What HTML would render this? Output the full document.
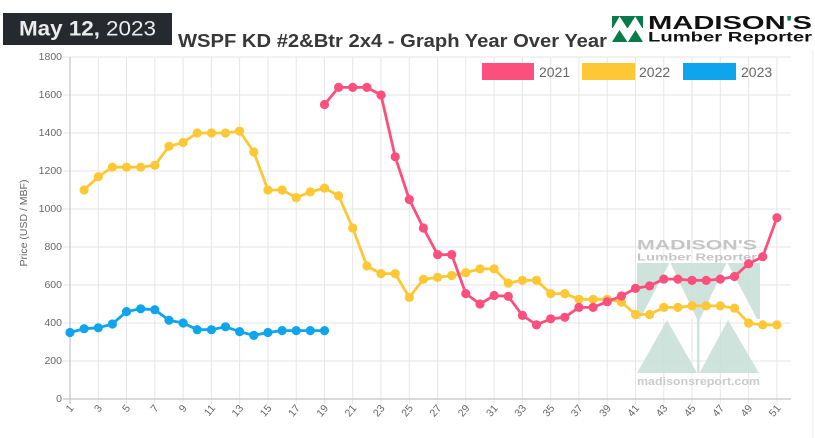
<!DOCTYPE html>
<html>
<head>
<meta charset="utf-8">
<style>
html,body{margin:0;padding:0;background:#fff;}
svg{display:block;font-family:"Liberation Sans",Arial,sans-serif;}
</style>
</head>
<body>
<svg width="815" height="438" viewBox="0 0 815 438" xmlns="http://www.w3.org/2000/svg">
<defs>
<marker id="mb" viewBox="-6 -6 12 12" markerWidth="12" markerHeight="12" refX="0" refY="0" markerUnits="userSpaceOnUse"><circle r="4.6" fill="#0ea5ec"/></marker>
<marker id="my" viewBox="-6 -6 12 12" markerWidth="12" markerHeight="12" refX="0" refY="0" markerUnits="userSpaceOnUse"><circle r="4.6" fill="#fdc735"/></marker>
<marker id="mp" viewBox="-6 -6 12 12" markerWidth="12" markerHeight="12" refX="0" refY="0" markerUnits="userSpaceOnUse"><circle r="4.6" fill="#fb4f7e"/></marker>
</defs>
<rect width="815" height="438" fill="#fff"/>
<line x1="813" y1="50" x2="813" y2="438" stroke="#eeeeee" stroke-width="1"/>

<!-- horizontal grid -->
<g stroke="#e6e6e6" stroke-width="1">
<line x1="63" y1="361" x2="791" y2="361"/>
<line x1="63" y1="323" x2="791" y2="323"/>
<line x1="63" y1="285" x2="791" y2="285"/>
<line x1="63" y1="247" x2="791" y2="247"/>
<line x1="63" y1="209" x2="791" y2="209"/>
<line x1="63" y1="171" x2="791" y2="171"/>
<line x1="63" y1="133" x2="791" y2="133"/>
<line x1="63" y1="95" x2="791" y2="95"/>
<line x1="63" y1="57" x2="791" y2="57"/>
</g>
<!-- vertical grid -->
<g stroke="#e6e6e6" stroke-width="1">
<line x1="98.3" y1="57" x2="98.3" y2="404"/>
<line x1="126.5" y1="57" x2="126.5" y2="404"/>
<line x1="154.8" y1="57" x2="154.8" y2="404"/>
<line x1="183.1" y1="57" x2="183.1" y2="404"/>
<line x1="211.4" y1="57" x2="211.4" y2="404"/>
<line x1="239.6" y1="57" x2="239.6" y2="404"/>
<line x1="267.9" y1="57" x2="267.9" y2="404"/>
<line x1="296.2" y1="57" x2="296.2" y2="404"/>
<line x1="324.5" y1="57" x2="324.5" y2="404"/>
<line x1="352.7" y1="57" x2="352.7" y2="404"/>
<line x1="381" y1="57" x2="381" y2="404"/>
<line x1="409.3" y1="57" x2="409.3" y2="404"/>
<line x1="437.6" y1="57" x2="437.6" y2="404"/>
<line x1="465.8" y1="57" x2="465.8" y2="404"/>
<line x1="494.1" y1="57" x2="494.1" y2="404"/>
<line x1="522.4" y1="57" x2="522.4" y2="404"/>
<line x1="550.7" y1="57" x2="550.7" y2="404"/>
<line x1="578.9" y1="57" x2="578.9" y2="404"/>
<line x1="607.2" y1="57" x2="607.2" y2="404"/>
<line x1="635.5" y1="57" x2="635.5" y2="404"/>
<line x1="663.8" y1="57" x2="663.8" y2="404"/>
<line x1="692" y1="57" x2="692" y2="404"/>
<line x1="720.3" y1="57" x2="720.3" y2="404"/>
<line x1="748.6" y1="57" x2="748.6" y2="404"/>
<line x1="776.9" y1="57" x2="776.9" y2="404"/>
</g>
<!-- axes -->
<line x1="70" y1="57" x2="70" y2="404" stroke="#c4c4c4" stroke-width="1.2"/>
<line x1="63" y1="399" x2="791" y2="399" stroke="#c4c4c4" stroke-width="1.2"/>

<!-- y labels -->
<g font-size="10.5" fill="#666" text-anchor="end" dominant-baseline="central">
<text x="62" y="399">0</text>
<text x="62" y="361">200</text>
<text x="62" y="323">400</text>
<text x="62" y="285">600</text>
<text x="62" y="247">800</text>
<text x="62" y="209">1000</text>
<text x="62" y="171">1200</text>
<text x="62" y="133">1400</text>
<text x="62" y="95">1600</text>
<text x="62" y="57">1800</text>
</g>
<text transform="translate(24,223) rotate(-90)" font-size="10.5" fill="#666" text-anchor="middle" dominant-baseline="central">Price (USD / MBF)</text>

<!-- x labels -->
<g font-size="10.5" fill="#666" text-anchor="end" dominant-baseline="central">
<text transform="translate(72,406.5) rotate(-50)">1</text>
<text transform="translate(100.3,406.5) rotate(-50)">3</text>
<text transform="translate(128.5,406.5) rotate(-50)">5</text>
<text transform="translate(156.8,406.5) rotate(-50)">7</text>
<text transform="translate(185.1,406.5) rotate(-50)">9</text>
<text transform="translate(213.4,406.5) rotate(-50)">11</text>
<text transform="translate(241.6,406.5) rotate(-50)">13</text>
<text transform="translate(269.9,406.5) rotate(-50)">15</text>
<text transform="translate(298.2,406.5) rotate(-50)">17</text>
<text transform="translate(326.5,406.5) rotate(-50)">19</text>
<text transform="translate(354.7,406.5) rotate(-50)">21</text>
<text transform="translate(383,406.5) rotate(-50)">23</text>
<text transform="translate(411.3,406.5) rotate(-50)">25</text>
<text transform="translate(439.6,406.5) rotate(-50)">27</text>
<text transform="translate(467.8,406.5) rotate(-50)">29</text>
<text transform="translate(496.1,406.5) rotate(-50)">31</text>
<text transform="translate(524.4,406.5) rotate(-50)">33</text>
<text transform="translate(552.7,406.5) rotate(-50)">35</text>
<text transform="translate(580.9,406.5) rotate(-50)">37</text>
<text transform="translate(609.2,406.5) rotate(-50)">39</text>
<text transform="translate(637.5,406.5) rotate(-50)">41</text>
<text transform="translate(665.8,406.5) rotate(-50)">43</text>
<text transform="translate(694,406.5) rotate(-50)">45</text>
<text transform="translate(722.3,406.5) rotate(-50)">47</text>
<text transform="translate(750.6,406.5) rotate(-50)">49</text>
<text transform="translate(778.9,406.5) rotate(-50)">51</text>
</g>

<!-- watermark -->
<g opacity="0.85">
<rect x="637" y="263" width="123" height="56" fill="#c6dfd6"/>
<polygon points="640,319 670,262 697,319" fill="#fff"/>
<polygon points="700,319 727,262 757,319" fill="#fff"/>
<rect x="697" y="319" width="2.5" height="54" fill="#c6dfd6"/>
<polygon points="637,373 667,320 697,373" fill="#c6dfd6"/>
<polygon points="699.5,373 728,320 759,373" fill="#c6dfd6"/>
<text x="637" y="249.5" font-size="13.5" font-weight="bold" fill="#bcbcbc" textLength="120" lengthAdjust="spacingAndGlyphs">MADISON'S</text>
<text x="637" y="260.5" font-size="10.5" font-weight="bold" fill="#bcbcbc" textLength="120" lengthAdjust="spacingAndGlyphs">Lumber Reporter</text>
<text x="637" y="385" font-size="11" font-weight="bold" fill="#c2c2c2" textLength="123" lengthAdjust="spacingAndGlyphs">madisonsreport.com</text>
</g>

<!-- series -->
<polyline fill="none" stroke="#0ea5ec" stroke-width="2.8" stroke-linejoin="round" marker-start="url(#mb)" marker-mid="url(#mb)" marker-end="url(#mb)"
points="70,332.5 84.1,328.7 98.3,327.8 112.4,324 126.5,311.6 140.7,308.8 154.8,309.7 169,320.2 183.1,323 197.2,329.7 211.4,329.7 225.5,326.8 239.6,331.6 253.8,335.4 267.9,332.5 282.1,330.6 296.2,330.6 310.3,330.6 324.5,330.6"/>
<polyline fill="none" stroke="#fdc735" stroke-width="2.8" stroke-linejoin="round" marker-start="url(#my)" marker-mid="url(#my)" marker-end="url(#my)"
points="84.1,190 98.3,176.7 112.4,167.2 126.5,167.2 140.7,167.2 154.8,165.3 169,146.3 183.1,142.5 197.2,133 211.4,133 225.5,133 239.6,131.1 253.8,152 267.9,190 282.1,190 296.2,197.6 310.3,191.9 324.5,188.1 338.6,195.7 352.7,228 366.9,266 381,273.6 395.2,273.6 409.3,297.4 423.4,279.3 437.6,277.4 451.7,275.5 465.8,272.7 480,268.9 494.1,268.9 508.3,283.1 522.4,280.3 536.5,280.3 550.7,293.6 564.8,293.6 578.9,299.3 593.1,299.3 607.2,299.3 621.4,302.1 635.5,314.5 649.6,314.5 663.8,307.4 677.9,307.4 692,305.9 706.2,305.9 720.3,305.9 734.5,308.2 748.6,323 762.7,324.9 776.9,324.9"/>
<polyline fill="none" stroke="#fb4f7e" stroke-width="2.8" stroke-linejoin="round" marker-start="url(#mp)" marker-mid="url(#mp)" marker-end="url(#mp)"
points="324.5,104.5 338.6,87.4 352.7,87.4 366.9,87.4 381,95 395.2,156.8 409.3,199.5 423.4,228 437.6,254.6 451.7,254.6 465.8,293.6 480,304 494.1,295.5 508.3,296.4 522.4,315.4 536.5,324.9 550.7,318.8 564.8,317.3 578.9,307.4 593.1,307.4 607.2,301.7 621.4,296 635.5,288.4 649.6,285.9 663.8,279.1 677.9,279.1 692,280.4 706.2,280.4 720.3,279.1 734.5,276.5 748.6,263.7 762.7,256.7 776.9,217.7"/>

<!-- legend -->
<rect x="482" y="63" width="52" height="17" fill="#fb4f7e"/>
<text x="539" y="77" font-size="14" fill="#666">2021</text>
<rect x="582" y="63" width="53" height="17" fill="#fdc735"/>
<text x="639" y="77" font-size="14" fill="#666">2022</text>
<rect x="683" y="63" width="53" height="17" fill="#0ea5ec"/>
<text x="741" y="77" font-size="14" fill="#666">2023</text>

<!-- date badge -->
<rect x="3" y="13" width="169" height="32" fill="#26292e"/>
<text x="19" y="35.5" font-size="21.5" font-weight="bold" fill="#ececec" textLength="81" lengthAdjust="spacingAndGlyphs">May 12,</text>
<text x="106" y="35.5" font-size="21.5" fill="#ececec" textLength="50" lengthAdjust="spacingAndGlyphs">2023</text>

<!-- title -->
<text x="178" y="47" font-size="18.5" font-weight="bold" fill="#383838" textLength="429" lengthAdjust="spacingAndGlyphs">WSPF KD #2&amp;Btr 2x4 - Graph Year Over Year</text>

<!-- logo -->
<rect x="612" y="16" width="31" height="12" fill="#0b7a4a"/>
<polygon points="612.8,28 619.6,16.5 627.1,28" fill="#fff"/>
<polygon points="627.9,28 635.2,16.5 642.2,28" fill="#fff"/>
<polygon points="612,42 619.5,30 627.5,42" fill="#0b7a4a"/>
<polygon points="628,42 635.5,30 643,42" fill="#0b7a4a"/>
<text x="648" y="29" font-size="18" font-weight="bold" fill="#111" textLength="164" lengthAdjust="spacingAndGlyphs">MADISON<tspan fill="#0b7a4a">'</tspan>S</text>
<text x="648" y="41.5" font-size="14" font-weight="bold" fill="#111" textLength="164" lengthAdjust="spacingAndGlyphs">Lumber Reporter</text>
</svg>
</body>
</html>
